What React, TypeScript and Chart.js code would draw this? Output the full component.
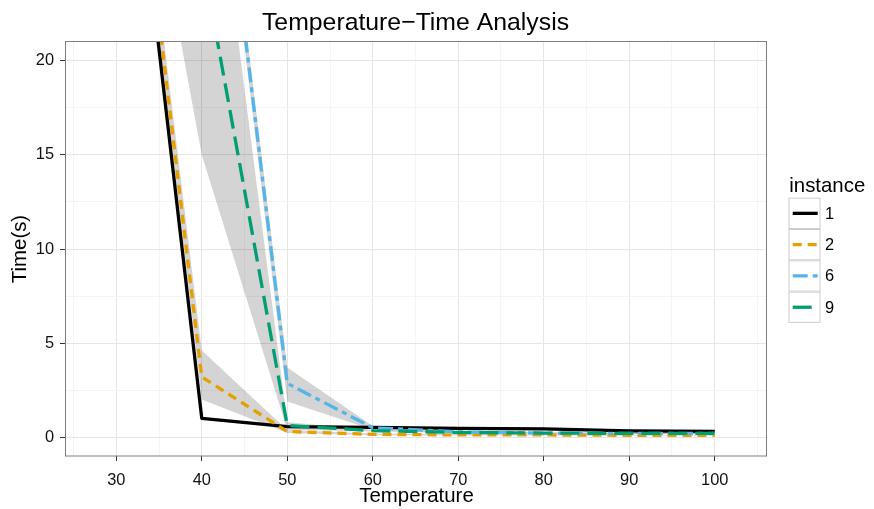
import React, { useEffect, useRef } from 'react';
import { Chart, registerables } from 'chart.js';

Chart.register(...registerables);

// ---------- data ----------
const temperatures = [30, 40, 50, 60, 70, 80, 90, 100];
const instanceLabels = ['1', '2', '6', '9'];

const time1 = [40.2, 1.0, 0.56, 0.52, 0.47, 0.44, 0.33, 0.31];
const time2 = [41.1, 3.2, 0.3, 0.15, 0.12, 0.12, 0.1, 0.1];
const time6 = [75, 40.4, 2.86, 0.5, 0.28, 0.22, 0.2, 0.2];
const time9 = [60, 25.6, 0.62, 0.35, 0.25, 0.22, 0.2, 0.2];

const lower2 = [40.3, 2.0, 0.22, 0.1, 0.09, 0.09, 0.08, 0.08];
const upper2 = [41.9, 4.6, 0.38, 0.2, 0.15, 0.15, 0.12, 0.12];
const lower6 = [74, 39.6, 1.9, 0.4, 0.24, 0.19, 0.17, 0.17];
const upper6 = [76, 41.2, 3.7, 0.6, 0.32, 0.25, 0.23, 0.23];
const lower9 = [39.6, 15.0, 0.4, 0.3, 0.22, 0.19, 0.17, 0.17];
const upper9 = [80, 36.2, 0.8, 0.4, 0.28, 0.25, 0.23, 0.23];

const xTicks = [25, 30, 35, 40, 45, 50, 55, 60, 65, 70, 75, 80, 85, 90, 95, 100, 105];
const yTicks = [0, 2.5, 5, 7.5, 10, 12.5, 15, 17.5, 20];

const chartTitle = 'Temperature\u2212Time Analysis';
const xTitle = 'Temperature';
const yTitle = 'Time(s)';
const legendTitle = 'instance';

// ---------- styles ----------
const FONT = "'Liberation Sans', Arial, Helvetica, sans-serif";
const RIBBON = 'rgba(0,0,0,0.17)';
const lineColors = ['#000000', '#E69F00', '#56B4E9', '#009E73'];
const lineDashes: number[][] = [[], [9, 6], [15, 5, 5, 5], [19, 8]];
const LINE_W = 3.3;

const pts = (ys: number[]) => temperatures.map((x, i) => ({ x, y: ys[i] }));

const overlayPlugin = {
  id: 'ggOverlay',
  afterDraw(chart: any) {
    const { ctx, chartArea } = chart;
    const { left, top, right, bottom } = chartArea;
    ctx.save();
    // panel border
    ctx.strokeStyle = '#7f7f7f';
    ctx.lineWidth = 1;
    ctx.setLineDash([]);
    ctx.strokeRect(left + 0.5, top - 0.5, right - left, bottom - top + 0.5);

    // title
    ctx.fillStyle = '#000';
    ctx.textBaseline = 'alphabetic';
    ctx.textAlign = 'center';
    ctx.font = `24.8px ${FONT}`;
    ctx.fillText(chartTitle, (left + right) / 2, 29.5);

    // x title
    ctx.font = `20.4px ${FONT}`;
    ctx.fillText(xTitle, (left + right) / 2 + 1, 501.7);

    // y title
    ctx.save();
    ctx.translate(25.7, (top + bottom) / 2);
    ctx.rotate(-Math.PI / 2);
    ctx.fillText(yTitle, 0, 0);
    ctx.restore();

    // legend
    ctx.textAlign = 'left';
    ctx.font = `20.4px ${FONT}`;
    ctx.fillText(legendTitle, 789.3, 191.7);
    const bx = 788.5;
    const bw = 32;
    const bh = 31.3;
    const by = 197.7;
    instanceLabels.forEach((lab, i) => {
      const y0 = by + i * bh;
      ctx.fillStyle = '#ffffff';
      ctx.fillRect(bx, y0, bw, bh);
      ctx.strokeStyle = '#cccccc';
      ctx.lineWidth = 1;
      ctx.setLineDash([]);
      ctx.strokeRect(bx + 0.5, y0 + 0.5, bw - 1, bh - 1);
      const yc = y0 + bh / 2;
      ctx.beginPath();
      ctx.strokeStyle = lineColors[i];
      ctx.lineWidth = LINE_W;
      ctx.lineCap = 'butt';
      ctx.setLineDash(lineDashes[i]);
      ctx.moveTo(792.7, yc);
      ctx.lineTo(817.7, yc);
      ctx.stroke();
      ctx.setLineDash([]);
      ctx.fillStyle = '#000';
      ctx.font = `16.4px ${FONT}`;
      ctx.textBaseline = 'middle';
      ctx.fillText(lab, 825, yc + 1);
    });
    ctx.restore();
  },
};

export default function App() {
  const canvasRef = useRef<HTMLCanvasElement | null>(null);

  useEffect(() => {
    if (!canvasRef.current) return;
    const ribbons = [
      [lower2, upper2],
      [lower6, upper6],
      [lower9, upper9],
    ];
    const ribbonSets: any[] = [];
    ribbons.forEach(([lo, hi]) => {
      ribbonSets.push({
        label: 'lo',
        data: pts(lo),
        borderWidth: 0,
        pointRadius: 0,
        fill: false,
        order: 10,
        clip: 0,
      });
      ribbonSets.push({
        label: 'hi',
        data: pts(hi),
        borderWidth: 0,
        pointRadius: 0,
        fill: '-1',
        backgroundColor: RIBBON,
        order: 10,
        clip: 0,
      });
    });
    const series = [time1, time2, time6, time9];
    const lineSets = series.map((s, i) => ({
      label: instanceLabels[i],
      data: pts(s),
      borderColor: lineColors[i],
      borderWidth: LINE_W,
      borderDash: lineDashes[i],
      borderCapStyle: 'butt',
      borderJoinStyle: 'round',
      pointRadius: 0,
      fill: false,
      tension: 0,
      order: 5 - i,
      clip: 0,
    }));

    const isMajorX = (v: number) => v % 10 === 0;
    const isMajorY = (v: number) => v % 5 === 0;

    const chart = new Chart(canvasRef.current, {
      type: 'line',
      data: { datasets: [...ribbonSets, ...lineSets] },
      options: {
        animation: false,
        responsive: false,
        devicePixelRatio: 1,
        layout: { padding: { top: 42, right: 108, left: 0, bottom: 0 } },
        plugins: {
          legend: { display: false },
          tooltip: { enabled: false },
          title: { display: false },
        },
        scales: {
          x: {
            type: 'linear',
            min: 24,
            max: 106,
            afterBuildTicks: (s: any) => {
              s.ticks = xTicks.map((v) => ({ value: v }));
            },
            afterFit: (s: any) => {
              s.height = 53;
            },
            ticks: {
              autoSkip: false,
              maxRotation: 0,
              padding: 9.5,
              color: '#111111',
              font: { family: FONT, size: 16.4 },
              callback: (v: any) => (isMajorX(Number(v)) ? String(v) : ''),
            },
            grid: {
              color: (c: any) => (isMajorX(c.tick?.value) ? '#e5e5e5' : '#f4f4f4'),
              lineWidth: 1,
              tickLength: 5,
              tickWidth: 1,
              tickColor: (c: any) => (isMajorX(c.tick?.value) ? '#333333' : 'rgba(0,0,0,0)'),
            },
            border: { display: false },
          },
          y: {
            type: 'linear',
            min: -1,
            max: 21,
            afterBuildTicks: (s: any) => {
              s.ticks = yTicks.map((v) => ({ value: v }));
            },
            afterFit: (s: any) => {
              s.width = 65;
            },
            ticks: {
              autoSkip: false,
              padding: 6,
              color: '#111111',
              font: { family: FONT, size: 16.4 },
              callback: (v: any) => (isMajorY(Number(v)) ? String(v) : ''),
            },
            grid: {
              color: (c: any) => (isMajorY(c.tick?.value) ? '#e5e5e5' : '#f4f4f4'),
              lineWidth: 1,
              tickLength: 5,
              tickWidth: 1,
              tickColor: (c: any) => (isMajorY(c.tick?.value) ? '#333333' : 'rgba(0,0,0,0)'),
            },
            border: { display: false },
          },
        },
      },
      plugins: [overlayPlugin],
    } as any);
    return () => chart.destroy();
  }, []);

  return (
    <div style={{ position: 'absolute', left: 0, top: 0, width: 874, height: 509, background: '#fff' }}>
      <canvas ref={canvasRef} width={874} height={509} style={{ display: 'block' }} />
    </div>
  );
}
